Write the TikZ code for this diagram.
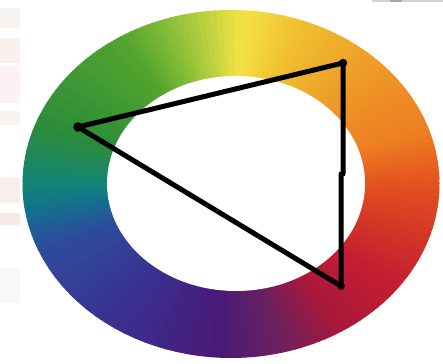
\documentclass[tikz,border=0pt]{standalone}
\usepackage{tikz}
\definecolor{h0}{HTML}{E4521E}
\definecolor{h1}{HTML}{EE7F22}
\definecolor{h2}{HTML}{EE8A25}
\definecolor{h3}{HTML}{EEA028}
\definecolor{h4}{HTML}{F0C030}
\definecolor{h5}{HTML}{F3E345}
\definecolor{h6}{HTML}{96C43A}
\definecolor{h7}{HTML}{52A42E}
\definecolor{h8}{HTML}{2B8C3A}
\definecolor{h9}{HTML}{12847A}
\definecolor{h10}{HTML}{13708E}
\definecolor{h11}{HTML}{2E4C9C}
\definecolor{h12}{HTML}{3A2F8F}
\definecolor{h13}{HTML}{4A1A78}
\definecolor{h14}{HTML}{6A2060}
\definecolor{h15}{HTML}{A8183A}
\definecolor{h16}{HTML}{C41D32}
\definecolor{h17}{HTML}{D63A25}
\definecolor{s1}{HTML}{F8F4F2}
\definecolor{s2}{HTML}{F9F0EE}
\definecolor{s3}{HTML}{FDF1F3}
\definecolor{s4}{HTML}{F7F3F0}
\definecolor{s5}{HTML}{F8EEEB}
\definecolor{s6}{HTML}{F5EAE8}
\definecolor{s7}{HTML}{FAF7FA}
\tikzset{
  edgeline/.style={line width=5pt, line join=round, line cap=round, black},
  vdot/.style={black}
}
\begin{document}
\begin{tikzpicture}[x=1pt,y=1pt]
\useasboundingbox (0,0) rectangle (443,363);
\fill[white] (0,0) rectangle (443,363);
% left strip
\fill[s1] (0,335) rectangle (20,355);
\fill[s2] (0,300) rectangle (20,325);
\fill[s3] (0,260) rectangle (20,298);
\fill[s4] (0,238) rectangle (20,252);
\fill[s5] (0,160) rectangle (20,185);
\fill[s6] (0,138) rectangle (20,150);
\fill[s7] (0,60) rectangle (20,95);
% top right gray bar
\fill[gray!35] (372,360.5) rectangle (443,363);
\fill[gray!70] (390,360.5) rectangle (402,363);
% colour wheel
\foreach \a/\b/\ca/\cb in {0/18/h0/h1,18/31/h1/h2,31/49/h2/h3,49/70/h3/h4,70/87/h4/h5,87/105/h5/h6,105/122/h6/h7,122/160/h7/h8,160/181/h8/h9,181/189/h9/h10,189/202/h10/h11,202/236/h11/h12,236/267/h12/h13,267/284/h13/h14,284/302/h14/h15,302/323/h15/h16,323/345/h16/h17,345/360/h17/h0} {
  \foreach \i in {0,...,9} {
    \pgfmathsetmacro\tA{\a+(\b-\a)*\i/10}
    \pgfmathsetmacro\tB{\a+(\b-\a)*(\i+1)/10+0.4}
    \pgfmathsetmacro\tM{(\tA+\tB)/2}
    \pgfmathtruncatemacro\p{100-(\i+0.5)*10}
    \fill[\ca!\p!\cb] (231,179) -- ({231+208.5*cos(\tA)},{179+174*sin(\tA)})
      -- ({231+208.5*cos(\tM)},{179+174*sin(\tM)})
      -- ({231+208.5*cos(\tB)},{179+174*sin(\tB)}) -- cycle;
  }
}
\fill[white] (236,179.5) ellipse [x radius=129, y radius=107.5];
% triangle
\coordinate (A) at (78,236);
\coordinate (B) at (343,300);
\coordinate (B1) at (343,189);
\coordinate (B2) at (341,189);
\coordinate (C) at (341,77);
\draw[edgeline] (A) -- (B) -- (B1) -- (B2) -- (C) -- cycle;
\fill[vdot] (A) circle (4.8);
\fill[vdot] (B) circle (4.2);
\fill[vdot] (C) circle (3.8);
\end{tikzpicture}
\end{document}
